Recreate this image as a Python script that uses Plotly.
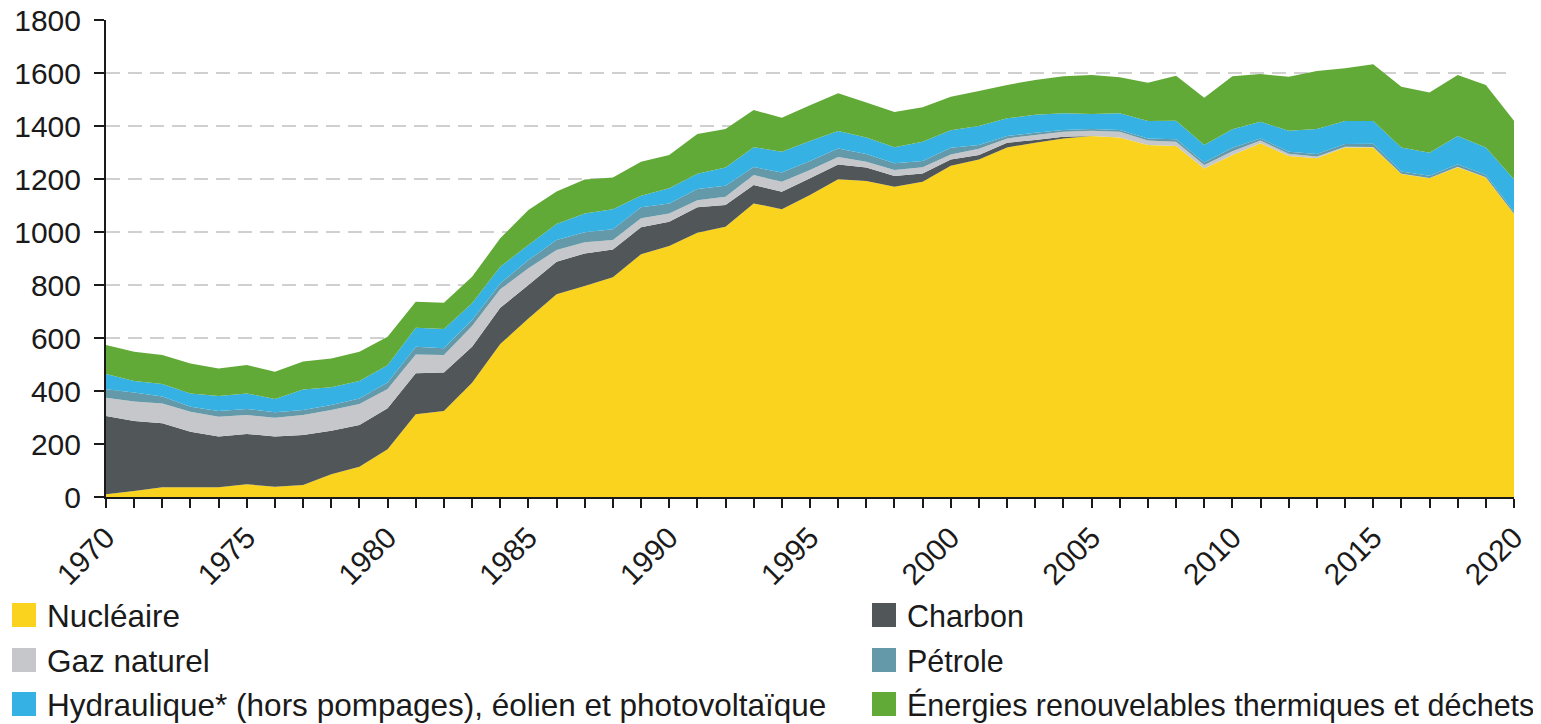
import plotly.graph_objects as go

years = list(range(1970, 2021))

nucleaire = [10, 23, 37, 37, 37, 48, 39, 45, 86, 114,
             180, 312, 325, 431, 577, 674, 765, 796, 829, 916,
             947, 997, 1020, 1108, 1086, 1140, 1199, 1192, 1171, 1190,
             1250, 1274, 1319, 1337, 1353, 1362, 1357, 1328, 1325, 1240,
             1291, 1335, 1287, 1278, 1319, 1319, 1219, 1203, 1244, 1206,
             1068]
charbon = [296, 264, 241, 209, 191, 190, 189, 189, 164, 158,
           155, 155, 145, 136, 137, 126, 123, 123, 105, 102,
           92, 96, 82, 69, 66, 63, 56, 51, 40, 31,
           24, 17, 18, 10, 6, 0, 0, 0, 0, 0,
           0, 0, 0, 0, 0, 0, 0, 0, 0, 0,
           0]
gaz = [69, 73, 75, 76, 75, 71, 71, 75, 78, 79,
       73, 71, 66, 78, 70, 63, 44, 42, 36, 34,
       31, 27, 31, 38, 38, 31, 28, 22, 23, 23,
       18, 23, 16, 19, 19, 20, 21, 17, 16, 13,
       14, 10, 8, 7, 3, 2, 1, 1, 2, 1,
       1]
petrole = [32, 34, 26, 19, 22, 23, 21, 19, 19, 21,
           24, 29, 25, 23, 22, 31, 38, 38, 40, 41,
           38, 42, 42, 30, 35, 34, 32, 29, 25, 24,
           26, 14, 9, 9, 7, 7, 7, 8, 9, 9,
           13, 8, 8, 9, 10, 12, 8, 8, 10, 8,
           8]
hydraulique = [57, 44, 47, 50, 56, 59, 50, 78, 67, 66,
               65, 72, 73, 63, 63, 57, 60, 71, 76, 44,
               57, 58, 68, 75, 78, 75, 66, 63, 61, 73,
               66, 72, 67, 67, 63, 56, 63, 66, 70, 66,
               70, 63, 79, 95, 87, 86, 91, 87, 106, 104,
               122]
renouvelables = [110, 110, 110, 113, 104, 107, 103, 105, 109, 110,
                 108, 98, 99, 100, 107, 132, 123, 128, 120, 128,
                 126, 150, 146, 140, 128, 135, 143, 132, 133, 130,
                 126, 132, 126, 132, 140, 147, 136, 144, 170, 179,
                 200, 180, 204, 219, 199, 214, 229, 227, 230, 236,
                 221]

series_names = ["Nucléaire", "Charbon", "Gaz naturel", "Pétrole",
                "Hydraulique* (hors pompages), éolien et photovoltaïque",
                "Énergies renouvelables thermiques et déchets"]
series_values = [nucleaire, charbon, gaz, petrole, hydraulique, renouvelables]
colors = ["#F9D31E", "#515658", "#C6C7CA", "#6399A8", "#35B1E4", "#62AA37"]

y_ticks = [0, 200, 400, 600, 800, 1000, 1200, 1400, 1600, 1800]

FONT = "Liberation Sans, Arial, Helvetica, sans-serif"
TXT = "#1a1a1a"

fig = go.Figure()
for name, vals, col in zip(series_names, series_values, colors):
    fig.add_trace(go.Scatter(
        x=years, y=vals, name=name, stackgroup="one", mode="none",
        fillcolor=col, line=dict(width=0), hoverinfo="x+y+name",
        showlegend=False,
    ))

# page body has an 8px margin: figure is shifted by OFF
OFF = 8
W, H = 1541 - OFF, 724 - OFF
L, R, T = 106 - OFF, 27, 20 - OFF
ph = 477
B = H - T - ph
pw = W - L - R


def px(xs):  # screen x -> paper
    return (xs - OFF - L) / pw


def py(ys):  # screen y -> paper
    return (T + ph - (ys - OFF)) / ph


shapes = []
annotations = []
legend_pos = [(12, 615), (872, 615), (12, 660), (872, 660), (12, 704), (872, 704)]
legend_size = [31.5, 30.5, 31.5, 30.5, 31.5, 30.5]
for (lx, ly), name, col, fs in zip(legend_pos, series_names, colors, legend_size):
    shapes.append(dict(type="rect", xref="paper", yref="paper",
                       x0=px(lx), x1=px(lx + 24), y0=py(ly + 12), y1=py(ly - 12),
                       fillcolor=col, line=dict(width=0)))
    annotations.append(dict(text=name, xref="paper", yref="paper",
                            x=px(lx + 33), y=py(ly + 1), xanchor="left", yanchor="middle",
                            showarrow=False, font=dict(size=fs, color=TXT, family=FONT)))

fig.update_layout(
    width=W, height=H,
    margin=dict(l=L, r=R, t=T, b=B, pad=0, autoexpand=False),
    plot_bgcolor="white", paper_bgcolor="white",
    font=dict(family=FONT, size=30, color=TXT),
    showlegend=False,
    shapes=shapes,
    annotations=annotations,
    xaxis=dict(
        range=[1970, 2020], tickmode="linear", tick0=1970, dtick=5,
        tickangle=-45, ticks="outside", ticklen=9, tickwidth=2, tickcolor=TXT,
        minor=dict(dtick=1, ticks="outside", ticklen=9, tickwidth=2, tickcolor=TXT, showgrid=False),
        showline=True, linecolor=TXT, linewidth=2, showgrid=False, zeroline=False,
        tickfont=dict(size=30, family=FONT, color=TXT), automargin=False,
        ticklabeloverflow="allow",
    ),
    yaxis=dict(
        range=[0, 1800], tickvals=y_ticks, ticks="outside", ticklen=10, tickwidth=2,
        tickcolor=TXT, showline=True, linecolor=TXT, linewidth=2,
        showgrid=True, gridcolor="#D0D0D0", griddash="14px,8px", gridwidth=2, zeroline=False,
        tickfont=dict(size=30, family=FONT, color=TXT), automargin=False,
        ticklabeloverflow="allow", ticklabelstandoff=7,
    ),
)

fig.write_html("out.html")
